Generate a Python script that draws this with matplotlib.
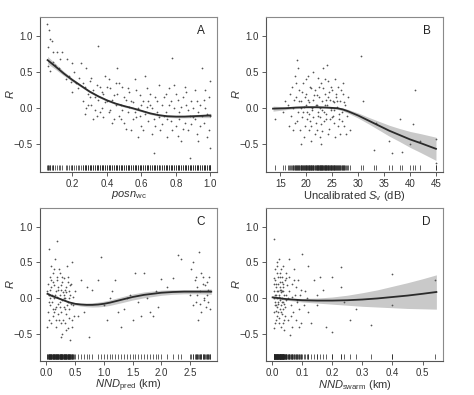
import numpy as np
import matplotlib
matplotlib.use("Agg")
import matplotlib.pyplot as plt
import matplotlib.transforms as mtrans

# ---------------- Panel A: posn_wc ----------------
a_pts = [(0.055,1.17),(0.065,1.08),(0.07,0.96),(0.08,0.93),(0.06,0.85),(0.09,0.78),(0.11,0.77),(0.14,0.78),
(0.06,0.58),(0.07,0.52),(0.1,0.6),(0.12,0.55),(0.09,0.64),(0.17,0.68),(0.2,0.62),(0.18,0.45),(0.21,0.5),
(0.22,0.35),(0.19,0.36),(0.24,0.42),(0.23,0.28),(0.25,0.62),(0.2,0.22),(0.16,0.4),(0.13,0.68),
(0.26,0.1),(0.27,0.3),(0.28,0.55),(0.29,0.2),(0.3,0.38),(0.31,0.05),(0.32,0.25),(0.33,0.15),(0.34,-0.1),
(0.35,0.86),(0.36,0.3),(0.37,0.0),(0.38,0.2),(0.39,0.45),(0.4,0.1),(0.41,-0.05),(0.42,0.28),(0.43,0.12),
(0.44,-0.15),(0.45,0.35),(0.27,-0.08),(0.29,0.05),(0.31,0.42),(0.33,-0.02),(0.35,0.12),(0.37,0.22),
(0.38,-0.12),(0.4,0.3),(0.42,-0.02),(0.44,0.18),(0.3,0.15),(0.34,0.32),(0.36,-0.05),(0.39,0.08),(0.41,0.4),
(0.43,-0.2),(0.45,0.05),(0.26,0.35),(0.28,0.0),(0.32,-0.15),
(0.46,0.2),(0.47,-0.1),(0.48,0.05),(0.49,0.3),(0.5,-0.2),(0.51,0.12),(0.52,-0.05),(0.53,0.22),(0.54,-0.3),
(0.55,0.08),(0.56,0.4),(0.57,-0.12),(0.58,0.0),(0.59,0.18),(0.6,-0.25),(0.61,0.1),(0.62,-0.08),(0.63,0.28),
(0.64,-0.18),(0.65,0.05),(0.66,-0.35),(0.67,-0.62),(0.68,0.15),(0.69,-0.05),(0.7,0.32),(0.47,0.35),
(0.49,-0.02),(0.51,-0.28),(0.53,0.02),(0.55,-0.15),(0.57,0.25),(0.59,-0.1),(0.61,-0.3),(0.63,0.02),
(0.65,0.2),(0.67,-0.15),(0.69,0.1),(0.48,-0.15),(0.52,0.28),(0.56,-0.05),(0.6,0.05),(0.64,0.1),(0.68,-0.25),
(0.46,0.55),(0.58,-0.4),(0.62,0.45),(0.66,0.0),(0.5,0.15),(0.54,0.1),(0.7,-0.12),
(0.71,-0.3),(0.72,0.05),(0.73,-0.1),(0.74,0.2),(0.75,-0.4),(0.76,0.28),(0.77,-0.18),(0.78,0.7),(0.79,0.0),
(0.8,-0.25),(0.81,0.12),(0.82,-0.05),(0.83,-0.45),(0.84,0.15),(0.85,-0.2),(0.86,0.05),(0.87,-0.3),
(0.88,-0.68),(0.89,0.1),(0.9,-0.12),(0.91,0.25),(0.92,-0.35),(0.93,-0.05),(0.94,0.05),(0.95,0.55),
(0.96,-0.2),(0.97,0.0),(0.98,-0.4),(0.99,0.15),(1.0,-0.1),(1.0,0.38),(1.0,-0.55),(0.72,-0.22),(0.74,-0.05),
(0.76,0.05),(0.78,-0.3),(0.8,0.2),(0.82,-0.15),(0.84,-0.28),(0.86,0.22),(0.88,-0.1),(0.9,0.0),(0.92,0.1),
(0.94,-0.25),(0.96,0.12),(0.98,-0.08),(0.73,0.15),(0.77,0.1),(0.81,-0.38),(0.85,0.3),(0.89,-0.22),
(0.93,-0.45),(0.97,0.25),(0.75,-0.15),(0.79,0.32),(0.83,0.02),(0.87,-0.02),(0.91,-0.15),(0.95,-0.1),(0.99,-0.3)]
a_curve_x = [0.056,0.1,0.15,0.2,0.25,0.3,0.35,0.4,0.45,0.5,0.55,0.6,0.65,0.7,0.75,0.8,0.85,0.9,0.95,1.0]
a_curve_y = [0.665,0.58,0.48,0.39,0.31,0.23,0.165,0.11,0.065,0.03,0.0,-0.035,-0.07,-0.095,-0.11,-0.115,-0.115,-0.11,-0.105,-0.1]
a_curve_se = [0.05,0.04,0.03,0.022,0.018,0.016,0.015,0.014,0.014,0.014,0.014,0.014,0.015,0.015,0.016,0.017,0.018,0.02,0.024,0.03]

# ---------------- Panel B: Uncalibrated Sv ----------------
b_pts = [(16.5,0.05),(17,-0.1),(17.2,0.3),(17.5,0.0),(17.8,-0.2),(18,0.15),(18.2,0.66),(18.4,-0.05),(18.6,0.25),
(18.8,-0.3),(19,0.1),(19.2,-0.12),(19.4,0.35),(19.6,0.02),(19.8,-0.25),(20,0.2),(20.2,-0.05),(20.4,0.45),
(20.6,0.08),(20.8,-0.18),(21,0.28),(21.2,-0.02),(21.4,0.12),(21.6,-0.35),(21.8,0.05),(22,0.18),(22.2,-0.1),
(22.4,0.3),(22.6,0.0),(22.8,-0.22),(23,0.1),(23.2,0.55),(23.4,-0.05),(23.6,0.2),(23.8,-0.15),(24,0.05),
(24.2,0.38),(24.4,-0.28),(24.6,0.12),(24.8,-0.02),(25,0.25),(25.2,-0.1),(25.4,0.08),(25.6,-0.4),(25.8,0.15),
(26,0.02),(26.2,0.3),(26.4,-0.15),(26.6,0.1),(26.8,-0.05),(27,0.2),(27.2,-0.25),(27.5,0.05),(27.8,-0.1),
(16.8,0.2),(17.4,-0.3),(18.1,0.35),(18.9,0.0),(19.5,-0.4),(20.1,-0.15),(20.7,0.3),(21.3,0.5),(21.9,-0.2),
(22.5,0.15),(23.1,-0.32),(23.7,0.05),(24.3,0.22),(24.9,-0.12),(25.5,0.4),(26.1,-0.25),(26.7,0.25),(27.3,0.08),
(17.6,0.12),(18.3,-0.18),(19.1,0.22),(19.9,0.4),(20.5,-0.3),(21.1,0.0),(21.7,0.25),(22.3,-0.05),(22.9,0.35),
(23.5,-0.18),(24.1,0.15),(24.7,0.0),(25.3,-0.2),(25.9,0.1),(26.5,-0.35),(27.1,0.35),
(16.6,-0.25),(17.9,0.45),(18.7,0.1),(19.3,-0.05),(20.3,0.12),(20.9,-0.45),(21.5,0.18),(22.1,0.05),
(22.7,-0.12),(23.3,0.28),(23.9,-0.08),(24.5,-0.15),(25.1,0.1),(25.7,0.2),(26.3,-0.08),(26.9,-0.18),
(19.7,0.15),(20.6,-0.08),(21.4,-0.12),(22.2,0.42),(23.0,-0.02),(23.6,0.4),(24.2,-0.35),(24.8,0.3),
(25.4,-0.02),(19.0,-0.5),(21.0,-0.25),(22.6,-0.4),(18.5,0.55),(24.0,0.6),(20.0,0.05),(22.0,-0.3),
(23.8,0.12),(15.5,-0.05),(16.0,0.1),(14.0,-0.15),(28.5,-0.3),(28.0,0.15),(27.6,-0.35),(22.8,-0.5),
(30.5,0.72),(31.0,0.1),(33.0,-0.58),(33.5,-0.2),(36.0,-0.45),(36.5,-0.62),(38.0,-0.15),(38.5,-0.6),
(40.0,-0.5),(40.5,-0.22),(41.0,0.25),(42.0,-0.45),(45.0,-0.42),(45.0,-0.75)]
b_curve_x = [13.6,16,18,20,22,24,26,27,28,29,30,32,34,36,38,40,42,45]
b_curve_y = [-0.005,0.0,0.01,0.015,0.015,0.01,0.0,-0.015,-0.04,-0.07,-0.1,-0.17,-0.24,-0.31,-0.37,-0.43,-0.48,-0.56]
b_curve_se = [0.035,0.02,0.015,0.012,0.012,0.012,0.015,0.02,0.025,0.03,0.035,0.045,0.06,0.075,0.09,0.11,0.13,0.16]

# ---------------- Panel C: NND_pred ----------------
c_pts = [(0.02,0.1),(0.03,-0.2),(0.04,0.68),(0.05,0.05),(0.06,-0.1),(0.07,0.3),(0.08,-0.35),(0.09,0.15),
(0.1,-0.05),(0.11,0.22),(0.12,-0.25),(0.13,0.0),(0.14,0.4),(0.15,-0.15),(0.16,0.1),(0.17,-0.4),(0.18,0.25),
(0.19,0.8),(0.2,-0.08),(0.21,0.12),(0.22,-0.3),(0.23,0.05),(0.24,0.35),(0.25,-0.2),(0.26,0.18),(0.27,-0.02),
(0.28,-0.5),(0.29,0.08),(0.3,-0.12),(0.31,0.28),(0.32,-0.35),(0.33,0.0),(0.34,0.15),(0.35,-0.22),(0.36,0.45),
(0.37,-0.05),(0.38,-0.42),(0.39,0.1),(0.4,-0.15),(0.41,0.05),(0.42,-0.58),(0.43,0.2),(0.44,-0.3),(0.45,0.5),
(0.46,-0.1),(0.47,0.02),(0.48,-0.25),(0.5,0.1),
(0.03,0.2),(0.05,-0.3),(0.07,0.0),(0.09,0.45),(0.11,-0.15),(0.13,0.18),(0.15,0.05),(0.17,-0.12),(0.19,0.3),
(0.21,-0.22),(0.23,-0.05),(0.25,0.12),(0.27,0.22),(0.29,-0.3),(0.31,0.0),(0.33,-0.15),(0.35,0.08),(0.37,0.3),
(0.39,-0.28),(0.41,0.18),(0.43,-0.08),(0.45,-0.4),
(0.04,-0.05),(0.06,0.12),(0.08,0.25),(0.1,0.05),(0.12,0.35),(0.14,-0.2),(0.16,-0.3),(0.18,0.02),(0.2,0.15),
(0.22,0.4),(0.24,-0.12),(0.26,-0.35),(0.28,0.3),(0.3,0.05),(0.32,0.12),(0.34,-0.45),(0.36,-0.1),(0.38,0.22),
(0.4,0.0),(0.02,-0.4),(0.15,0.55),(0.25,-0.55),
(0.55,-0.25),(0.6,0.25),(0.65,-0.2),(0.75,-0.55),(0.8,0.12),(0.9,0.25),(0.95,0.57),(1.0,-0.1),(1.05,-0.3),
(1.1,0.0),(1.2,0.25),(1.25,-0.2),(1.3,-0.4),(1.35,-0.15),(1.4,0.0),(1.45,0.05),(1.5,-0.3),(1.55,0.35),
(1.6,-0.05),(1.65,-0.25),(1.7,0.35),(1.75,0.0),(1.8,-0.2),(1.85,-0.25),(1.9,0.1),(2.0,0.27),(2.1,0.15),
(2.2,0.28),(2.3,0.6),(2.35,0.55),(1.15,0.1),(0.7,0.15),(1.95,-0.12),
(2.5,0.05),(2.52,0.4),(2.55,-0.1),(2.58,0.25),(2.6,-0.05),(2.62,0.15),(2.64,-0.3),(2.66,0.65),(2.68,0.1),
(2.7,-0.2),(2.72,0.3),(2.74,0.0),(2.76,0.18),(2.78,-0.12),(2.8,0.22),(2.82,-0.05),(2.84,0.1),(2.85,-0.15),
(2.56,0.5),(2.63,0.05),(2.69,0.35),(2.75,-0.02),(2.81,0.12),(2.67,-0.08),(2.73,0.2),(2.79,0.05),(2.6,0.3),(2.83,0.3)]
c_curve_x = [0.02,0.1,0.2,0.3,0.4,0.5,0.6,0.7,0.8,0.9,1.0,1.1,1.2,1.3,1.4,1.5,1.6,1.7,1.8,1.9,2.0,2.2,2.4,2.6,2.8,2.87]
c_curve_y = [0.06,0.03,0.0,-0.03,-0.06,-0.08,-0.09,-0.095,-0.095,-0.09,-0.08,-0.065,-0.045,-0.025,-0.005,0.015,
             0.03,0.045,0.055,0.065,0.075,0.085,0.09,0.09,0.09,0.09]
c_curve_se = [0.025,0.015,0.012,0.012,0.014,0.018,0.022,0.026,0.03,0.033,0.036,0.038,0.04,0.041,0.042,0.042,
              0.042,0.041,0.04,0.038,0.036,0.032,0.03,0.03,0.034,0.038]

# ---------------- Panel D: NND_swarm ----------------
d_pts = [(0.005,0.1),(0.007,-0.2),(0.008,0.82),(0.009,0.4),(0.01,-0.05),(0.011,0.25),(0.012,-0.3),(0.013,0.05),
(0.014,0.15),(0.015,-0.12),(0.016,0.35),(0.017,0.0),(0.018,-0.25),(0.019,0.2),(0.02,-0.08),(0.021,0.1),
(0.022,-0.35),(0.023,0.55),(0.024,0.02),(0.025,-0.15),(0.026,0.3),(0.027,-0.02),(0.028,0.12),(0.029,-0.4),
(0.03,0.08),(0.031,-0.1),(0.032,0.22),(0.033,0.0),(0.034,-0.22),(0.035,0.15),(0.036,0.45),(0.037,-0.05),
(0.038,0.1),(0.039,-0.3),(0.04,0.05),(0.042,0.25),(0.044,-0.12),(0.046,0.35),(0.048,-0.02),(0.05,0.18),
(0.006,0.0),(0.008,0.28),(0.01,-0.35),(0.012,0.2),(0.014,-0.1),(0.016,0.1),(0.018,0.45),(0.02,0.3),
(0.022,0.05),(0.024,-0.28),(0.026,0.0),(0.028,0.35),(0.03,-0.2),(0.032,-0.05),(0.034,0.3),(0.036,-0.15),
(0.038,0.2),(0.04,-0.45),(0.005,-0.42),(0.015,0.5),(0.025,0.15),(0.035,-0.35),(0.045,0.05),(0.006,0.2),
(0.013,-0.18),(0.019,-0.05),(0.027,0.22),(0.033,0.1),(0.041,-0.08),(0.047,0.28),(0.011,0.05),(0.021,-0.2),
(0.031,0.4),(0.043,-0.25),(0.009,-0.1),(0.029,0.12),
(0.052,-0.3),(0.055,0.3),(0.058,0.1),(0.06,-0.52),(0.062,-0.1),(0.065,0.2),(0.068,0.02),(0.07,-0.2),
(0.072,0.4),(0.075,0.05),(0.078,-0.3),(0.08,0.15),(0.083,-0.05),(0.086,0.25),(0.09,-0.15),(0.093,0.05),
(0.096,-0.35),(0.1,0.62),(0.105,-0.1),(0.11,0.1),(0.115,0.0),(0.12,0.45),(0.054,0.0),(0.064,-0.25),
(0.074,0.25),(0.084,-0.02),(0.095,0.12),(0.057,0.55),(0.067,-0.4),(0.088,-0.4),
(0.13,-0.35),(0.14,0.25),(0.15,-0.1),(0.16,0.3),(0.17,0.12),(0.18,-0.4),(0.2,-0.48),(0.2,0.3),(0.23,0.43),
(0.23,0.15),(0.24,-0.05),(0.26,-0.3),(0.28,-0.15),(0.33,-0.38),(0.4,0.33),(0.4,-0.1),(0.54,0.25),
(0.12,-0.2),(0.15,0.05)]
d_curve_x = [0.002,0.02,0.05,0.1,0.15,0.2,0.25,0.3,0.35,0.4,0.45,0.5,0.546]
d_curve_y = [0.01,0.0,-0.015,-0.03,-0.035,-0.035,-0.03,-0.02,-0.005,0.015,0.035,0.06,0.085]
d_curve_se = [0.02,0.015,0.015,0.025,0.035,0.05,0.07,0.095,0.12,0.15,0.18,0.21,0.24]

panels = [
    dict(pts=a_pts, cx=a_curve_x, cy=a_curve_y, se=a_curve_se, letter="A",
         xlim=(0.012, 1.038), xticks=[0.2, 0.4, 0.6, 0.8, 1.0], xfmt="{:.1f}",
         xlabel=r"$\mathit{posn}_{\mathrm{wc}}$",
         rect=[40/474, 1-172/395, 177/474, 155/395]),
    dict(pts=b_pts, cx=b_curve_x, cy=b_curve_y, se=b_curve_se, letter="B",
         xlim=(12.25, 46.35), xticks=[15, 20, 25, 30, 35, 40, 45], xfmt="{:d}",
         xlabel=r"Uncalibrated $\mathit{S}_{\mathrm{v}}$ (dB)",
         rect=[266/474, 1-172/395, 177/474, 155/395]),
    dict(pts=c_pts, cx=c_curve_x, cy=c_curve_y, se=c_curve_se, letter="C",
         xlim=(-0.11, 2.97), xticks=[0.0, 0.5, 1.0, 1.5, 2.0, 2.5], xfmt="{:.1f}",
         xlabel=r"$\mathit{NND}_{\mathrm{pred}}$ (km)",
         rect=[40/474, 1-361/395, 177/474, 153/395]),
    dict(pts=d_pts, cx=d_curve_x, cy=d_curve_y, se=d_curve_se, letter="D",
         xlim=(-0.02, 0.568), xticks=[0.0, 0.1, 0.2, 0.3, 0.4, 0.5], xfmt="{:.1f}",
         xlabel=r"$\mathit{NND}_{\mathrm{swarm}}$ (km)",
         rect=[266/474, 1-361/395, 177/474, 153/395]),
]

yticks = [-0.5, 0.0, 0.5, 1.0]
ytick_labels = ["\u22120.5", "0.0", "0.5", "1.0"]

plt.rcParams['font.family'] = ['Liberation Sans', 'DejaVu Sans']
plt.rcParams['mathtext.fontset'] = 'custom'
plt.rcParams['mathtext.rm'] = 'Liberation Sans'
plt.rcParams['mathtext.it'] = 'Liberation Sans:italic'
plt.rcParams['mathtext.bf'] = 'Liberation Sans:bold'

fig = plt.figure(figsize=(4.74, 3.95), dpi=100)
fig.patch.set_facecolor("white")

for p in panels:
    ax = fig.add_axes(p["rect"])
    xs = np.array([q[0] for q in p["pts"]])
    ys = np.array([q[1] for q in p["pts"]])
    cx = np.array(p["cx"]); cy = np.array(p["cy"]); se = np.array(p["se"])
    ax.fill_between(cx, cy - se, cy + se, color="#c9c9c9", lw=0, zorder=2)
    ax.scatter(xs, ys, s=1.6, color="#555555", lw=0, zorder=3)
    ax.plot(cx, cy, color="#2b2b2b", lw=1.3, zorder=4)
    # rug
    trans = mtrans.blended_transform_factory(ax.transData, ax.transAxes)
    ax.vlines(xs, 0.01, 0.045, transform=trans, color="#222222", lw=0.5, zorder=3)
    ax.set_xlim(*p["xlim"])
    ax.set_ylim(-0.88, 1.26)
    ax.set_xticks(p["xticks"])
    ax.set_xticklabels([p["xfmt"].format(t) for t in p["xticks"]])
    ax.set_yticks(yticks)
    ax.set_yticklabels(ytick_labels)
    ax.tick_params(direction="out", length=3, width=0.6, labelsize=7, colors="#444444",
                   labelcolor="#333333", pad=2)
    for side, sp in ax.spines.items():
        sp.set_color("#8a8a8a")
        sp.set_linewidth(0.8)
    ax.spines["left"].set_color("#555555")
    ax.spines["bottom"].set_color("#555555")
    ax.set_ylabel(r"$\mathit{R}$", fontsize=8, color="#333333")
    ax.yaxis.set_label_coords(-0.135, 0.5)
    ax.set_xlabel(p["xlabel"], fontsize=8, color="#333333", labelpad=0)
    ax.text(0.93, 0.95, p["letter"], transform=ax.transAxes, ha="right", va="top",
            fontsize=8.5, color="#222222")

fig.savefig("out.png", dpi=100, facecolor="white")
